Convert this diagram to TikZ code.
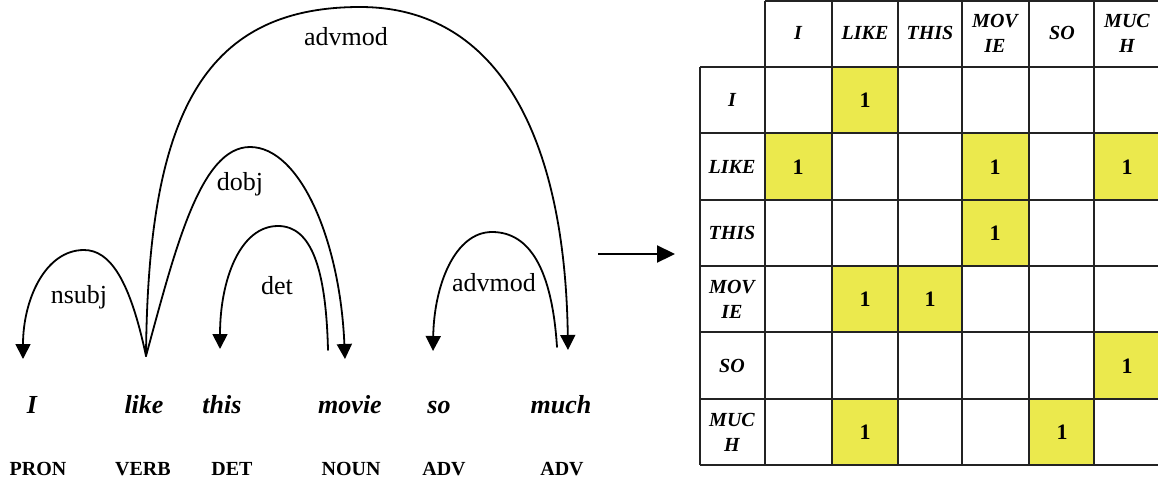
\documentclass[tikz,border=0pt]{standalone}
\usepackage{fontspec}
\setmainfont{Liberation Serif}[
  UprightFont={Liberation Serif},
  BoldFont={Liberation Serif Bold},
  ItalicFont={Liberation Serif Italic},
  BoldItalicFont={Liberation Serif Bold Italic}]
\usetikzlibrary{arrows.meta}
\definecolor{cellyellow}{RGB}{235,233,77}
\definecolor{gridline}{RGB}{35,35,35}
\begin{document}
\begin{tikzpicture}[x=1pt,y=-1pt,
  word/.style={font=\fontsize{26}{30}\selectfont\bfseries\itshape, anchor=base, inner sep=0pt},
  postag/.style={font=\fontsize{20}{24}\selectfont\bfseries, anchor=base, inner sep=0pt},
  rel/.style={font=\fontsize{26}{30}\selectfont, anchor=base, inner sep=0pt},
  arc/.style={line width=1.8pt, line cap=round},
  dep/.style={arc, -{Triangle[length=15pt,width=15pt]}},
  bigarrow/.style={line width=2.2pt, -{Triangle[length=18pt,width=17pt]}},
  grid/.style={draw=gridline, line width=1.4pt},
  hdr/.style={font=\fontsize{20}{25}\selectfont\bfseries\itshape, align=center, inner sep=0pt},
  one/.style={font=\fontsize{22}{24}\selectfont\bfseries, inner sep=0pt},
  hit/.style={fill=cellyellow, draw=none}
]
\useasboundingbox (0,0) rectangle (1158,480);

% ---------- sentence ----------
\node[word] (wI)     at (32,413)  {I};
\node[word] (wlike)  at (144,413) {like};
\node[word] (wthis)  at (222,413) {this};
\node[word] (wmovie) at (350,413) {movie};
\node[word] (wso)    at (439,413) {so};
\node[word] (wmuch)  at (561,413) {much};

\node[postag] (pI)     at (38,475)  {PRON};
\node[postag] (plike)  at (143,475) {VERB};
\node[postag] (pthis)  at (232,475) {DET};
\node[postag] (pmovie) at (351,475) {NOUN};
\node[postag] (pso)    at (444,475) {ADV};
\node[postag] (pmuch)  at (562,475) {ADV};

% arc end points above the words
\coordinate (likeTop)   at (146,356);
\coordinate (ITip)      at (23,359);
\coordinate (thisTip)   at (220,349);
\coordinate (movieTop)  at (328,350);
\coordinate (movieTip)  at (345,359);
\coordinate (soTip)     at (433,351);
\coordinate (muchTop)   at (557,347);
\coordinate (muchTip)   at (568,350);

% dependency arcs, each drawn as two halves meeting at the top
\draw[dep] (likeTop)  .. controls (130,280) and (110,250) .. (84,250)
                      .. controls (45,250) and (23,300) .. (ITip);
\draw[dep] (likeTop)  .. controls (175,250) and (200,147) .. (250,147)
                      .. controls (300,147) and (340,240) .. (movieTip);
\draw[dep] (movieTop) .. controls (326,270) and (312,226) .. (278,226)
                      .. controls (240,226) and (220,280) .. (thisTip);
\draw[dep] (likeTop)  .. controls (148,120) and (200,7) .. (360,7)
                      .. controls (500,7) and (565,140) .. (muchTip);
\draw[dep] (muchTop)  .. controls (552,270) and (530,232) .. (492,232)
                      .. controls (455,232) and (434,285) .. (soTip);

% relation labels
\node[rel] (lnsubj)  at (79,303)  {nsubj};
\node[rel] (ldobj)   at (240,190) {dobj};
\node[rel] (ldet)    at (277,294) {det};
\node[rel] (ladv1)   at (346,45)  {advmod};
\node[rel] (ladv2)   at (494,291) {advmod};

% ---------- transition arrow ----------
\coordinate (arrS) at (598,254);
\coordinate (arrE) at (675,254);
\draw[bigarrow] (arrS) -- (arrE);

% ---------- adjacency matrix ----------
% highlighted cells (row, column)
\foreach \xa/\xb/\ya/\yb in {
  832/898/67/133,
  765/832/133/200, 962/1029/133/200, 1094/1160/133/200,
  962/1029/200/266,
  832/898/266/332, 898/962/266/332,
  1094/1160/332/399,
  832/898/399/465, 1029/1094/399/465}
  \fill[hit] (\xa,\ya) rectangle (\xb,\yb);

% grid lines
\draw[grid] (765,1) -- (1160,1);
\foreach \y in {67,133,200,266,332,399,465}
  \draw[grid] (700,\y) -- (1160,\y);
\draw[grid] (700,67) -- (700,465);
\foreach \x in {765,832,898,962,1029,1094}
  \draw[grid] (\x,1) -- (\x,465);

% column headers
\node[hdr] (cI)     at (798,33)  {I};
\node[hdr] (cLIKE)  at (865,33)  {LIKE};
\node[hdr] (cTHIS)  at (930,33)  {THIS};
\node[hdr] (cMOVIE) at (995,33)  {MOV\\IE};
\node[hdr] (cSO)    at (1062,33) {SO};
\node[hdr] (cMUCH)  at (1127,33) {MUC\\H};

% row headers
\node[hdr] (rI)     at (732,100) {I};
\node[hdr] (rLIKE)  at (732,167) {LIKE};
\node[hdr] (rTHIS)  at (732,233) {THIS};
\node[hdr] (rMOVIE) at (732,299) {MOV\\IE};
\node[hdr] (rSO)    at (732,366) {SO};
\node[hdr] (rMUCH)  at (732,432) {MUC\\H};

% entries
\node[one] (e12) at (865,100)  {1};
\node[one] (e21) at (798,167)  {1};
\node[one] (e24) at (995,167)  {1};
\node[one] (e26) at (1127,167) {1};
\node[one] (e34) at (995,233)  {1};
\node[one] (e42) at (865,299)  {1};
\node[one] (e43) at (930,299)  {1};
\node[one] (e56) at (1127,366) {1};
\node[one] (e62) at (865,432)  {1};
\node[one] (e65) at (1062,432) {1};
\end{tikzpicture}
\end{document}
